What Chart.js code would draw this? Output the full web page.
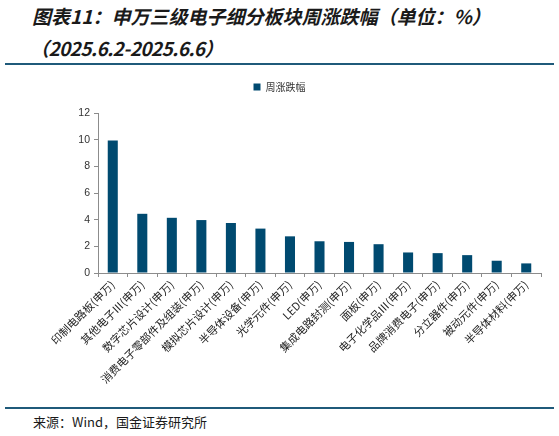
<!DOCTYPE html>
<html>
<head>
<meta charset="utf-8">
<script src="https://cdn.jsdelivr.net/npm/chart.js@4.4.1/dist/chart.umd.min.js"></script>
<style>
  html, body { margin:0; padding:0; background:#fff; }
  body { width:559px; height:436px; position:relative; overflow:hidden; font-family:"Noto Sans CJK SC", sans-serif; }
  .title { position:absolute; left:32px; font-size:19px; font-weight:bold; font-style:italic; color:#1a1a1a; white-space:nowrap; line-height:1; }
  #t1 { top:6px; }
  #t2 { top:38px; left:30px; letter-spacing:-0.6px; }
  .rule { position:absolute; left:5px; width:549px; height:2px; background:#1f5a7a; }
  #r1 { top:63px; }
  #r2 { top:407px; }
  #src { position:absolute; left:33px; top:414px; font-size:13px; color:#1a1a1a; white-space:nowrap; line-height:1.2; }
  #wrap { position:absolute; left:0; top:70px; width:559px; height:335px; }
</style>
</head>
<body>
<div class="title" id="t1">图表11：申万三级电子细分板块周涨跌幅（单位：%）</div>
<div class="title" id="t2">（2025.6.2-2025.6.6）</div>
<div class="rule" id="r1"></div>
<div class="rule" id="r2"></div>
<div id="src">来源：Wind，国金证券研究所</div>
<div id="wrap"><canvas id="c"></canvas></div>
<script>
const categories = [
  "印制电路板(申万)", "其他电子Ⅲ(申万)", "数字芯片设计(申万)", "消费电子零部件及组装(申万)",
  "模拟芯片设计(申万)", "半导体设备(申万)", "光学元件(申万)", "LED(申万)",
  "集成电路封测(申万)", "面板(申万)", "电子化学品Ⅲ(申万)", "品牌消费电子(申万)",
  "分立器件(申万)", "被动元件(申万)", "半导体材料(申万)"
];
const weeklyChange = [9.93, 4.44, 4.14, 3.97, 3.75, 3.33, 2.75, 2.38, 2.33, 2.16, 1.54, 1.49, 1.34, 0.92, 0.72];
const seriesName = "周涨跌幅";
const yTicks = [0, 2, 4, 6, 8, 10, 12];

const barColor = "#004a70";
const axisColor = "#8c8c8c";

const legendGap = {
  id: "legendGap",
  beforeInit(chart) {
    const origFit = chart.legend.fit;
    chart.legend.fit = function () {
      origFit.call(this);
      this.height += 11;
    };
  },
  afterLayout(chart) {
    chart.legend.right += 18;
  }
};

new Chart(document.getElementById("c"), {
  type: "bar",
  data: {
    labels: categories,
    datasets: [{
      label: seriesName,
      data: weeklyChange,
      backgroundColor: barColor,
      borderWidth: 0,
      categoryPercentage: 1.0,
      barPercentage: 0.34
    }]
  },
  plugins: [legendGap],
  options: {
    responsive: true,
    maintainAspectRatio: false,
    animation: false,
    devicePixelRatio: 1,
    layout: { padding: { left: 0, right: 18, top: 0, bottom: 0 } },
    plugins: {
      legend: {
        display: true,
        position: "top",
        labels: {
          boxWidth: 7, boxHeight: 7, padding: 12,
          color: "#333",
          font: { family: "'Noto Sans CJK SC'", size: 10 }
        }
      },
      tooltip: { enabled: false }
    },
    scales: {
      x: {
        grid: { display: true, drawOnChartArea: false, drawTicks: true, tickLength: 4, color: axisColor, offset: true },
        border: { display: true, color: axisColor, width: 1 },
        ticks: {
          minRotation: 45, maxRotation: 45, autoSkip: false,
          color: "#222", padding: 1,
          font: { family: "'Noto Sans CJK SC'", size: 11 }
        },
        afterFit: (s) => { s.height = 132; }
      },
      y: {
        min: 0, max: 12,
        afterBuildTicks: (s) => { s.ticks = yTicks.map(v => ({ value: v })); },
        grid: { display: true, drawOnChartArea: false, drawTicks: true, tickLength: 4, color: axisColor },
        border: { display: true, color: axisColor, width: 1 },
        ticks: {
          color: "#333", padding: 4,
          font: { family: "Arial, 'Liberation Sans'", size: 10.5 }
        },
        afterFit: (s) => { s.width = 98; }
      }
    }
  }
});
</script>
</body>
</html>
